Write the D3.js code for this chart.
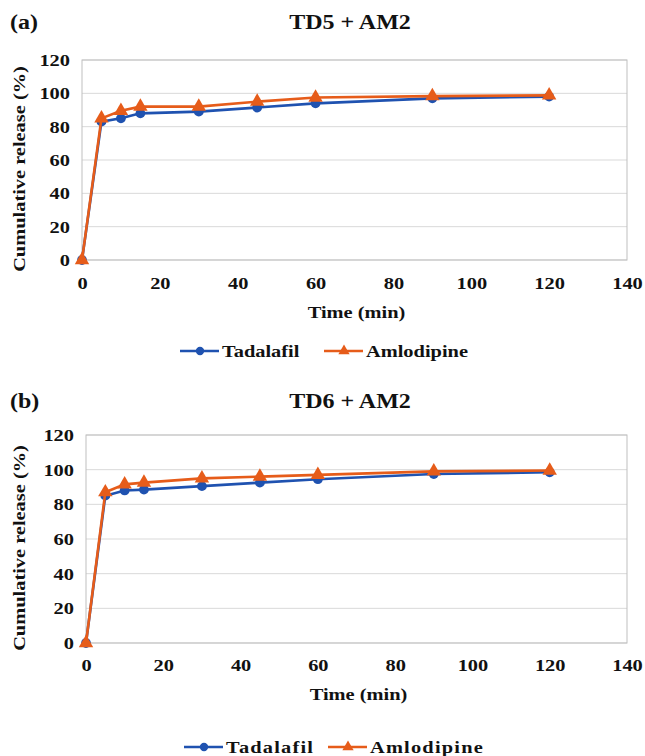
<!DOCTYPE html>
<html>
<head>
<meta charset="utf-8">
<script src="https://cdn.jsdelivr.net/npm/d3@7"></script>
<style>
  body { margin: 0; background: #fff; }
</style>
</head>
<body>
<svg id="svg" width="645" height="756"></svg>
<script>
// time points (min)
var times = [0, 5, 10, 15, 30, 45, 60, 90, 120];
var xTicks = [0, 20, 40, 60, 80, 100, 120, 140];
var yTicks = [0, 20, 40, 60, 80, 100, 120];

// panel (a) TD5 + AM2
var tadalafilA = [0, 83, 85, 88, 89, 91.5, 94, 97, 98];
var amlodipineA = [0, 85, 89.5, 92, 92, 95, 97.5, 98.3, 98.8];
// panel (b) TD6 + AM2
var tadalafilB = [0, 85, 88, 88.5, 90.5, 92.5, 94.5, 97.5, 98.5];
var amlodipineB = [0, 87, 91.5, 92.5, 95, 96, 97, 99, 99.5];

var seriesNames = ["Tadalafil", "Amlodipine"];
var colors = ["#1f52b0", "#e65c1a"];

var FONT = "'Liberation Serif'";
var svg = d3.select("#svg");
var SX = 1.2; // the source figure is stretched sideways

function styleText(sel, size) {
    sel.style("font-family", FONT)
        .style("font-weight", "bold")
        .style("font-size", size + "px")
        .style("fill", "#111");
}

function label(g, x, y, txt, size, anchor, rot) {
    var t = g.append("text")
        .attr("transform", "translate(" + x + "," + y + ")" + (rot ? " rotate(-90)" : "") + " scale(" + SX + ",1)")
        .attr("text-anchor", anchor || "middle")
        .text(txt);
    styleText(t, size);
    return t;
}

function drawPanel(cfg) {
    var padding = cfg.padding;
    var x = d3.scaleLinear().domain([0, 140]).range([padding.left, padding.right]);
    var y = d3.scaleLinear().domain([0, 120]).range([padding.bottom, padding.top]);
    var g = svg.append("g");

    // gridlines
    g.selectAll("line.grid").data(yTicks).enter()
        .append("line")
        .attr("x1", x(0)).attr("x2", x(140))
        .attr("y1", function(d){ return y(d); })
        .attr("y2", function(d){ return y(d); })
        .attr("stroke", "#d9d9d9").attr("stroke-width", 1);

    g.append("rect")
        .attr("x", x(0)).attr("y", y(120))
        .attr("width", x(140) - x(0)).attr("height", y(0) - y(120))
        .attr("fill", "none").attr("stroke", "#bfbfbf");

    // axes (labels only)
    var yAxis = g.append("g").attr("transform", "translate(" + x(0) + ",0)")
        .call(d3.axisLeft(y).tickValues(yTicks).tickSize(0).tickPadding(12));
    yAxis.attr("font-family", null);
    yAxis.select(".domain").remove();
    yAxis.selectAll(".tick").attr("transform", null);
    yAxis.selectAll("text")
        .attr("transform", function(d){ return "translate(-12," + y(d) + ") scale(" + SX + ",1)"; })
        .attr("x", 0).attr("y", 0).attr("dy", "0.35em")
        .call(styleText, 17);

    var xAxis = g.append("g").attr("transform", "translate(0," + y(0) + ")")
        .call(d3.axisBottom(x).tickValues(xTicks).tickSize(0).tickPadding(cfg.tickPad));
    xAxis.attr("font-family", null);
    xAxis.select(".domain").remove();
    xAxis.selectAll("text")
        .attr("transform", "scale(" + SX + ",1)")
        .call(styleText, 17);

    // lines + markers
    [cfg.tad, cfg.aml].forEach(function(vals, si) {
        var pts = times.map(function(t, i){ return [t, vals[i]]; });
        g.append("path")
            .datum(pts)
            .attr("fill", "none")
            .attr("stroke", colors[si])
            .attr("stroke-width", 2.6)
            .attr("d", d3.line().x(function(d){ return x(d[0]); }).y(function(d){ return y(d[1]); }));
        var sym = si === 0 ? d3.symbolCircle : d3.symbolTriangle;
        g.selectAll("path.m" + si).data(pts).enter()
            .append("path")
            .attr("transform", function(d){ return "translate(" + x(d[0]) + "," + y(d[1]) + ")"; })
            .attr("d", d3.symbol().type(sym).size(si === 0 ? 75 : 90))
            .attr("fill", colors[si]);
    });

    // texts
    label(g, cfg.tagX, cfg.titleY, cfg.tag, 20, "start");
    label(g, 350, cfg.titleY, cfg.title, 20, "middle");
    label(g, 25, (y(0) + y(120)) / 2 + 9, "Cumulative release (%)", 17, "middle", true);
    label(g, (x(0) + x(140)) / 2 + 2, cfg.xTitleY, "Time (min)", 17, "middle");

    // legend
    var lg = g.append("g").attr("transform", "translate(" + cfg.legX + "," + cfg.legY + ")");
    var offs = [0, 144];
    seriesNames.forEach(function(n, si) {
        var o = offs[si];
        lg.append("line").attr("x1", o).attr("x2", o + 39).attr("y1", 0).attr("y2", 0)
            .attr("stroke", colors[si]).attr("stroke-width", 2.6);
        lg.append("path").attr("transform", "translate(" + (o + 20) + ",0)")
            .attr("d", d3.symbol().type(si === 0 ? d3.symbolCircle : d3.symbolTriangle).size(55))
            .attr("fill", colors[si]);
        label(lg, o + 42, 6, n, 17, "start")
            .style("letter-spacing", cfg.legSpacing + "px");
    });
}

drawPanel({
    padding: { left: 82, right: 627, top: 60, bottom: 260 },
    tad: tadalafilA, aml: amlodipineA,
    tag: "(a)", title: "TD5 + AM2", tagX: 10, titleY: 29, tickPad: 17,
    xTitleY: 318, legX: 180, legY: 351, legSpacing: 0
});
drawPanel({
    padding: { left: 86, right: 627, top: 435, bottom: 643 },
    tad: tadalafilB, aml: amlodipineB,
    tag: "(b)", title: "TD6 + AM2", tagX: 10, titleY: 408, tickPad: 16,
    xTitleY: 700, legX: 184, legY: 747, legSpacing: 1
});
</script>
</body>
</html>
